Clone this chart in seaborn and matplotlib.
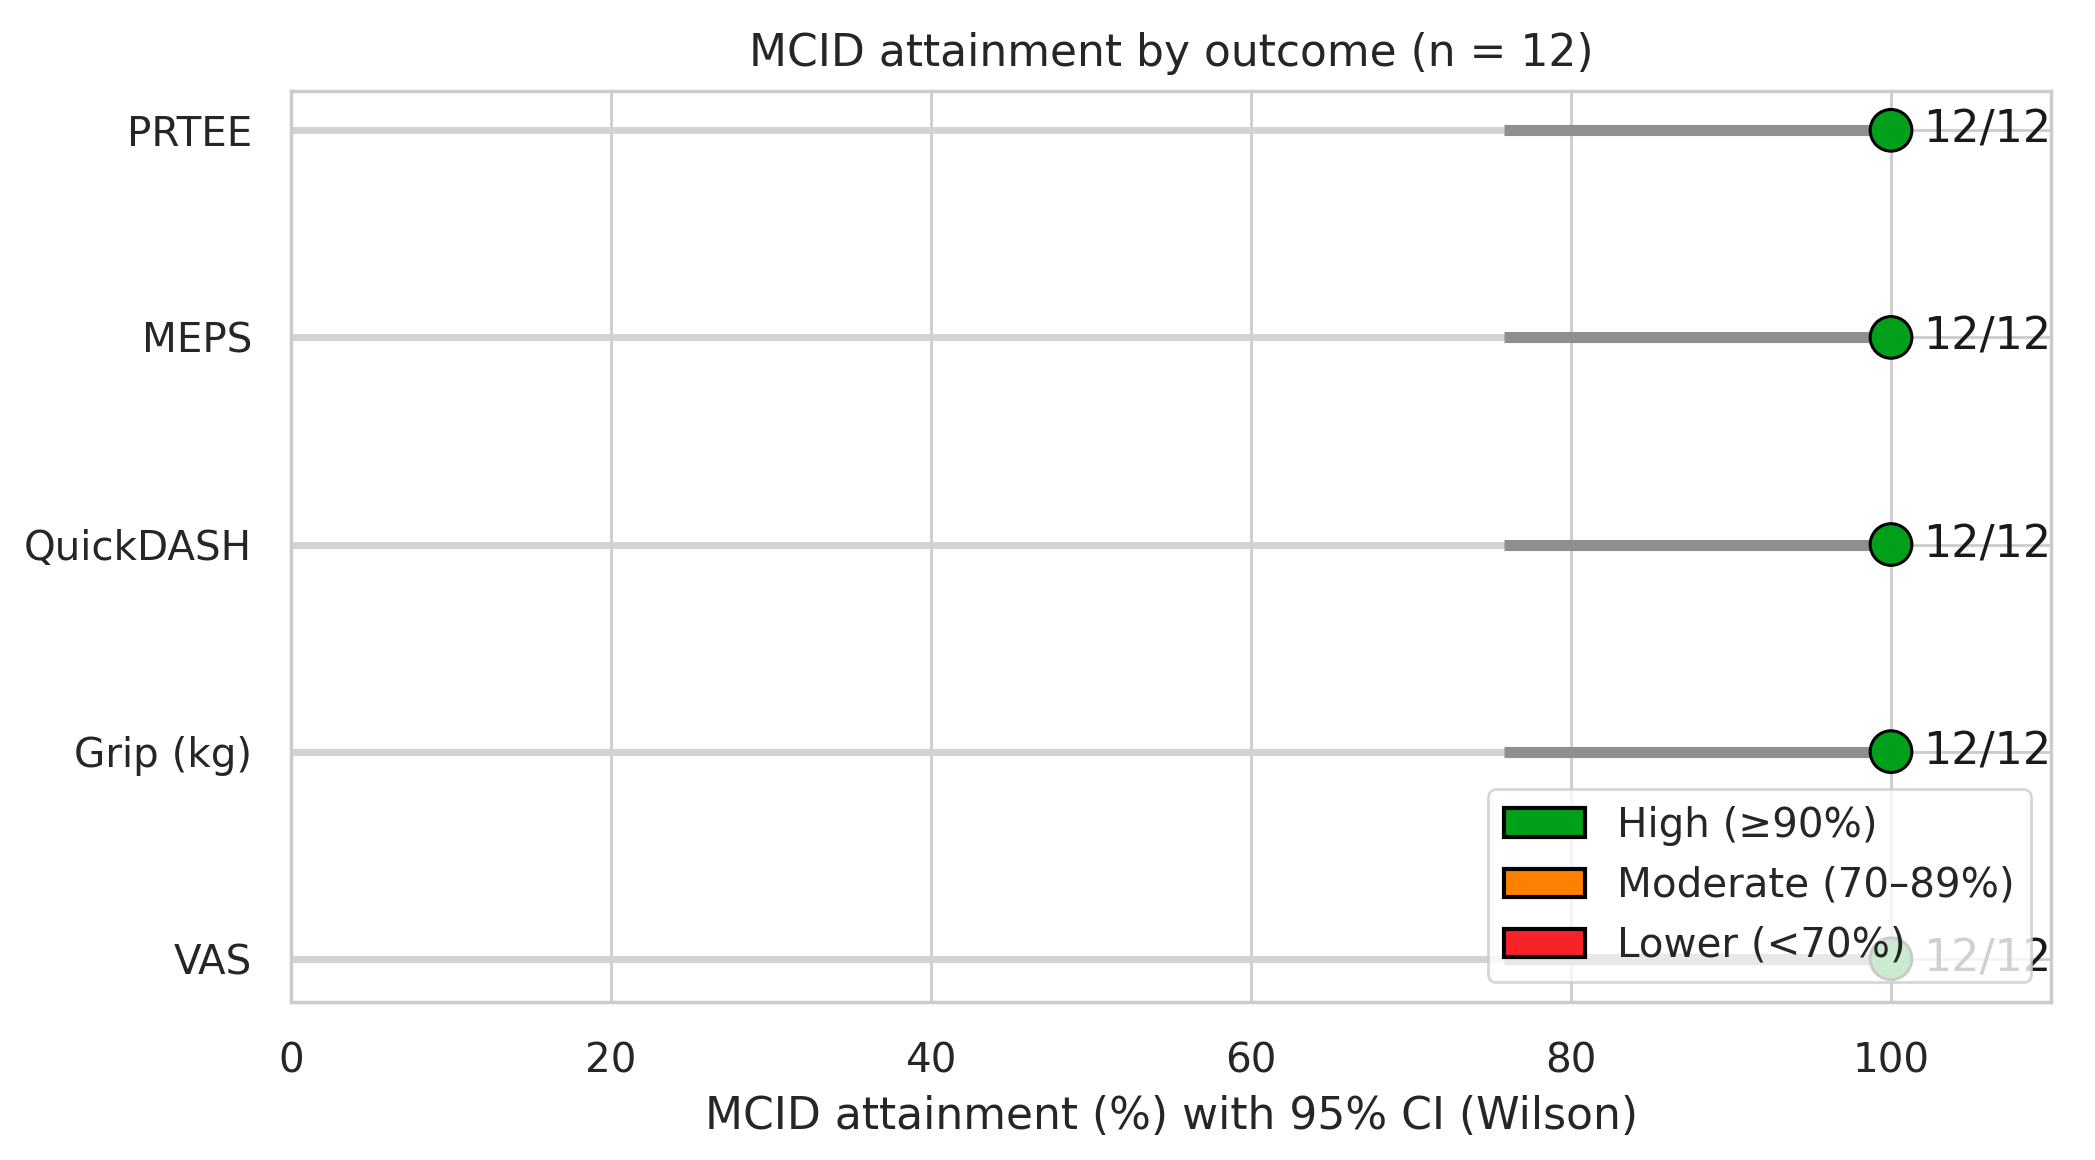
import numpy as np
import pandas as pd
import matplotlib
matplotlib.use("Agg")
import matplotlib.pyplot as plt
import seaborn as sns
from matplotlib.patches import Patch

# values
outcomes = ["PRTEE", "MEPS", "QuickDASH", "Grip (kg)", "VAS"]
responders = [12, 12, 12, 12, 12]
n_total = [12, 12, 12, 12, 12]
pct = [100.0, 100.0, 100.0, 100.0, 100.0]
ci_low = [75.8, 75.8, 75.8, 75.8, 75.8]
ci_high = [100.0, 100.0, 100.0, 100.0, 100.0]

tier_labels = ["High (\u226590%)", "Moderate (70\u201389%)", "Lower (<70%)"]
tier_colors = ["#00a01a", "#ff8000", "#f82228"]
x_ticks = [0, 20, 40, 60, 80, 100]

sns.set_theme(style="whitegrid", font_scale=1.32)

df = pd.DataFrame({"outcome": outcomes, "responders": responders, "n": n_total,
                   "pct": pct, "lo": ci_low, "hi": ci_high})
# top row first
df["ypos"] = np.arange(len(df))[::-1]

def tier(p):
    if p >= 90:
        return tier_labels[0]
    elif p >= 70:
        return tier_labels[1]
    return tier_labels[2]

df["tier"] = df["pct"].apply(tier)

fig, ax = plt.subplots(figsize=(10.475, 5.8), dpi=200)
fig.subplots_adjust(left=0.139, right=0.979, top=0.9216, bottom=0.136)

# stems and confidence intervals
ax.hlines(df["ypos"], 0, df["pct"], color="#d3d3d3", linewidth=2.5, zorder=1)
ax.hlines(df["ypos"], df["lo"], df["hi"], color="#8f8f8f", linewidth=4, zorder=1.5)

sns.scatterplot(data=df, x="pct", y="ypos", hue="tier", hue_order=tier_labels,
                palette=dict(zip(tier_labels, tier_colors)), s=225,
                edgecolor="black", linewidth=1.1, legend=False, zorder=2, ax=ax)

for _, row in df.iterrows():
    ax.text(row["pct"] + 2, row["ypos"], f"{row['responders']}/{row['n']}",
            ha="left", va="center", fontsize=16, color="#1a1a1a", zorder=3)

ax.set_xlim(0, 110)
ax.set_ylim(-0.21, 4.19)
ax.set_xticks(x_ticks)
ax.set_yticks(df["ypos"])
ax.set_yticklabels(df["outcome"])
ax.tick_params(axis="both", pad=8)
ax.set_ylabel("")
ax.set_xlabel("MCID attainment (%) with 95% CI (Wilson)", labelpad=5)
ax.set_title("MCID attainment by outcome (n = 12)", pad=9)

handles = [Patch(facecolor=c, edgecolor="black", linewidth=1.5, label=l)
           for c, l in zip(tier_colors, tier_labels)]
ax.legend(handles=handles, loc="lower right")

plt.savefig("out.png", dpi=200)
plt.close()
